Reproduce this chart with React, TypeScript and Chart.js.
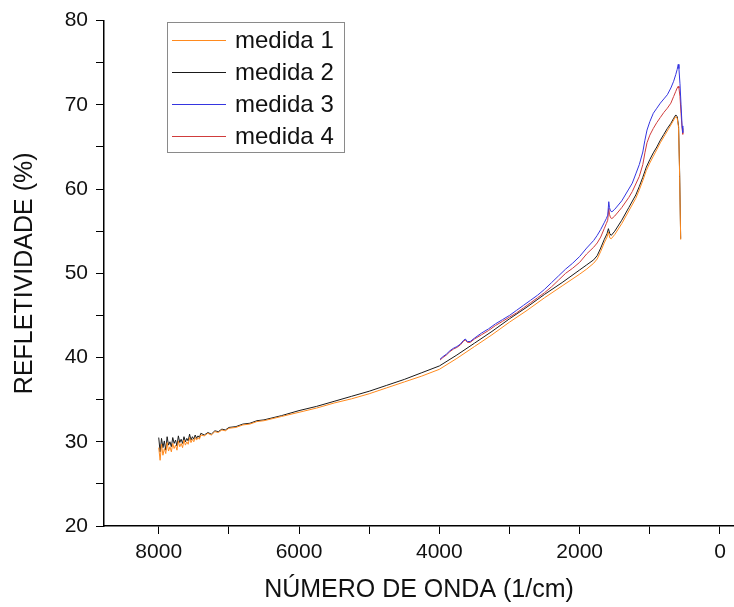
import React, { useEffect, useRef } from "react";
import { Chart, registerables } from "chart.js";

Chart.register(...registerables);

// Wavenumbers (1/cm) for medida 1 and medida 2
const wnA = [
  8000, 7980, 7960, 7940, 7920, 7900, 7880, 7860, 7840, 7820, 7800, 7780, 7760, 7740, 7720, 7700,
  7680, 7660, 7640, 7620, 7600, 7580, 7560, 7540, 7520, 7500, 7480, 7460, 7440, 7420, 7400,
  7350, 7300, 7250, 7200, 7150, 7100, 7050, 7000, 6900, 6800, 6700, 6600, 6500,
  6250, 6000, 5750, 5500, 5250, 5000, 4750, 4500, 4250, 4000, 3750, 3500, 3250,
  3000, 2750, 2500, 2250, 2000, 1900, 1800, 1750, 1700, 1650, 1610, 1590, 1570, 1550, 1500,
  1400, 1300, 1200, 1150, 1100, 1050, 1000, 950, 900, 850, 800, 750, 700, 660, 630, 610, 590,
  575, 560,
];

const medida1 = [
  29.3, 27.8, 29.7, 28.4, 29.2, 28.6, 29.9, 28.9, 29.4, 28.8, 29.8, 29.2, 29.6, 29.0, 30.1, 29.4,
  29.8, 29.3, 30.2, 29.6, 30.0, 29.7, 30.5, 29.9, 30.3, 30.0, 30.5, 30.2, 30.5, 30.3, 30.8,
  30.7, 31.0, 30.8, 31.2, 31.1, 31.4, 31.3, 31.6, 31.7, 32.0, 32.1, 32.4, 32.5,
  33.0, 33.5, 34.0, 34.6, 35.1, 35.7, 36.4, 37.1, 37.8, 38.6, 39.9, 41.3, 42.7,
  44.2, 45.6, 47.1, 48.5, 49.9, 50.5, 51.2, 51.7, 52.6, 53.6, 54.3, 54.9, 54.2, 54.1, 54.6,
  55.9, 57.4, 58.9, 59.9, 61.0, 62.2, 63.1, 63.9, 64.7, 65.5, 66.2, 66.9, 67.6, 68.2, 68.6, 68.4, 67.3,
  61.5, 54.0,
];

const medida2 = [
  30.5, 28.8, 30.4, 29.3, 30.1, 29.0, 30.6, 29.6, 30.0, 29.4, 30.5, 29.8, 30.2, 29.5, 30.7, 29.9,
  30.3, 29.8, 30.6, 30.0, 30.4, 30.1, 30.9, 30.2, 30.6, 30.3, 30.8, 30.4, 30.7, 30.5, 31.0,
  30.8, 31.1, 30.9, 31.3, 31.2, 31.5, 31.4, 31.7, 31.8, 32.1, 32.2, 32.5, 32.6,
  33.1, 33.7, 34.2, 34.8, 35.4, 36.0, 36.7, 37.4, 38.2, 39.0, 40.3, 41.7, 43.1,
  44.6, 46.0, 47.5, 48.9, 50.4, 51.0, 51.6, 52.1, 53.0, 54.0, 54.7, 55.3, 54.7, 54.5, 55.0,
  56.3, 57.8, 59.3, 60.3, 61.4, 62.6, 63.5, 64.3, 65.0, 65.8, 66.5, 67.2, 67.8, 68.4, 68.8, 68.6, 67.5,
  62.0, 54.1,
];

// Wavenumbers (1/cm) for medida 3 and medida 4
const wnB = [
  3990, 3950, 3900, 3850, 3800, 3750, 3700, 3660, 3630, 3600, 3560, 3500, 3400, 3300, 3200, 3100,
  3000, 2900, 2800, 2700, 2600, 2500, 2400, 2300, 2200, 2100, 2000, 1900, 1800, 1750, 1700, 1650,
  1620, 1600, 1585, 1575, 1560, 1540, 1500, 1400, 1300, 1250, 1200, 1150, 1100, 1070, 1040, 1000,
  950, 900, 850, 800, 750, 700, 660, 630, 610, 595, 585, 570, 555, 540, 530,
];

const medida3 = [
  39.8, 40.1, 40.4, 40.8, 41.1, 41.3, 41.6, 42.0, 42.2, 41.9, 41.9, 42.3, 42.9, 43.4, 44.0, 44.5,
  45.0, 45.6, 46.2, 46.8, 47.4, 48.1, 48.9, 49.7, 50.5, 51.2, 52.0, 53.0, 53.9, 54.5, 55.2, 56.0,
  56.5, 56.9, 58.5, 57.8, 57.4, 57.3, 57.6, 58.6, 60.0, 60.7, 61.8, 62.9, 64.4, 65.8, 67.0, 68.0,
  69.0, 69.6, 70.2, 70.7, 71.2, 72.0, 72.8, 73.6, 74.2, 74.8, 74.3, 72.5, 70.0, 67.5, 66.7,
];

const medida4 = [
  39.7, 40.0, 40.3, 40.7, 41.0, 41.2, 41.5, 41.9, 42.1, 41.8, 41.8, 42.2, 42.7, 43.2, 43.8, 44.3,
  44.8, 45.3, 45.9, 46.5, 47.1, 47.7, 48.4, 49.2, 50.0, 50.6, 51.3, 52.3, 53.1, 53.6, 54.3, 55.3,
  55.9, 56.3, 57.7, 57.0, 56.6, 56.5, 56.8, 57.8, 59.0, 59.7, 60.6, 61.5, 62.9, 64.3, 65.5, 66.4,
  67.2, 67.9, 68.5, 69.1, 69.6, 70.2, 71.0, 71.6, 72.0, 72.2, 72.0, 71.0, 69.0, 67.2, 66.5,
];

// Tick positions (major labelled, minor unlabelled)
const xTickValues = [8000, 7000, 6000, 5000, 4000, 3000, 2000, 1000, 0];
const xTickLabels = ["8000", "", "6000", "", "4000", "", "2000", "", "0"];
const yTickValues = [20, 25, 30, 35, 40, 45, 50, 55, 60, 65, 70, 75, 80];
const yTickLabels = ["20", "", "30", "", "40", "", "50", "", "60", "", "70", "", "80"];

const seriesNames = ["medida 1", "medida 2", "medida 3", "medida 4"];
const seriesColors = ["#FF8A1E", "#1A1A1A", "#3535E0", "#D03C3C"];

const xTitle = "NÚMERO DE ONDA (1/cm)";
const yTitle = "REFLETIVIDADE (%)";

const FONT = "'Liberation Sans', Arial, Helvetica, sans-serif";

const toPoints = (xs: number[], ys: number[]) => xs.map((x, i) => ({ x, y: ys[i] }));

const legendPlugin = {
  id: "insideLegend",
  afterDraw(chart: any) {
    const ctx = chart.ctx as CanvasRenderingContext2D;
    const left = 167;
    const top = 22;
    const w = 177;
    const h = 130;
    ctx.save();
    ctx.fillStyle = "#ffffff";
    ctx.fillRect(left, top, w, h);
    ctx.strokeStyle = "#8a8a8a";
    ctx.lineWidth = 1;
    ctx.strokeRect(left + 0.5, top + 0.5, w, h);
    ctx.font = `24px ${FONT}`;
    ctx.textBaseline = "middle";
    ctx.textAlign = "left";
    seriesNames.forEach((name, i) => {
      const y = top + 18 + i * 32;
      ctx.strokeStyle = seriesColors[i];
      ctx.lineWidth = 1;
      ctx.beginPath();
      ctx.moveTo(left + 5, y + 0.5);
      ctx.lineTo(left + 59, y + 0.5);
      ctx.stroke();
      ctx.fillStyle = "#111111";
      ctx.fillText(name, left + 68, y + 1);
    });
    ctx.restore();
  },
};

export default function App() {
  const canvasRef = useRef<HTMLCanvasElement | null>(null);

  useEffect(() => {
    document.body.style.margin = "0";
    const canvas = canvasRef.current;
    if (!canvas) return;
    const datasets = [
      toPoints(wnA, medida1),
      toPoints(wnA, medida2),
      toPoints(wnB, medida3),
      toPoints(wnB, medida4),
    ].map((data, i) => ({
      label: seriesNames[i],
      data,
      borderColor: seriesColors[i],
      backgroundColor: seriesColors[i],
      borderWidth: 1,
      pointRadius: 0,
      tension: 0,
      fill: false,
    }));

    const chart = new Chart(canvas, {
      type: "line",
      data: { datasets },
      plugins: [legendPlugin],
      options: {
        responsive: false,
        animation: false,
        devicePixelRatio: 1,
        layout: { padding: { top: 17, right: 0, left: 0, bottom: 0 } },
        plugins: {
          legend: { display: false },
          tooltip: { enabled: false },
        },
        scales: {
          x: {
            type: "linear",
            reverse: true,
            min: -200,
            max: 8780,
            afterBuildTicks: (s: any) => {
              s.ticks = xTickValues.map((value) => ({ value }));
            },
            afterFit: (s: any) => {
              s.height = 81;
            },
            border: { display: true, color: "#000", width: 1.5 },
            grid: { drawOnChartArea: false, drawTicks: true, tickLength: 8, color: "#000", lineWidth: 1 },
            ticks: {
              autoSkip: false,
              maxRotation: 0,
              minRotation: 0,
              padding: 6,
              color: "#111",
              font: { family: FONT, size: 21 },
              callback: (v: any) => xTickLabels[xTickValues.indexOf(Number(v))] ?? "",
            },
            title: {
              display: true,
              text: xTitle,
              color: "#111",
              font: { family: FONT, size: 25 },
              padding: { top: 0, bottom: 2 },
            },
          },
          y: {
            type: "linear",
            min: 20,
            max: 80,
            afterBuildTicks: (s: any) => {
              s.ticks = yTickValues.map((value) => ({ value }));
            },
            afterFit: (s: any) => {
              s.width = 104;
            },
            border: { display: true, color: "#000", width: 1.5 },
            grid: { drawOnChartArea: false, drawTicks: true, tickLength: 8, color: "#000", lineWidth: 1 },
            ticks: {
              autoSkip: false,
              padding: 8,
              color: "#111",
              font: { family: FONT, size: 21 },
              callback: (v: any) => yTickLabels[yTickValues.indexOf(Number(v))] ?? "",
            },
            title: {
              display: true,
              text: yTitle,
              color: "#111",
              font: { family: FONT, size: 25 },
              padding: { top: 10, bottom: 0 },
            },
          },
        },
      },
    });
    return () => chart.destroy();
  }, []);

  return (
    <div style={{ width: 734, height: 607, background: "#fff" }}>
      <canvas ref={canvasRef} width={734} height={607} style={{ display: "block" }} />
    </div>
  );
}
